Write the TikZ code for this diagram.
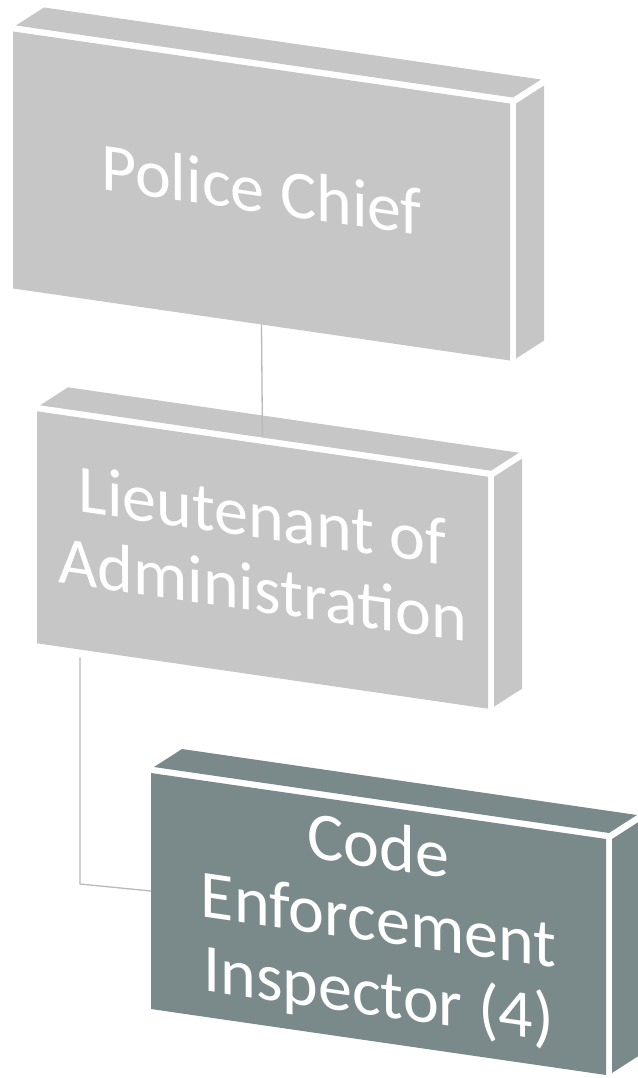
\documentclass[tikz,border=0pt]{standalone}
\usepackage{fontspec}
\setmainfont{Carlito}
\usetikzlibrary{calc,positioning}
\definecolor{boxgray}{RGB}{198,198,198}
\definecolor{boxteal}{RGB}{122,138,139}
\definecolor{linkgray}{RGB}{185,185,185}
% top and side faces of a box node
\newcommand{\boxfaces}[2]{
    \fill[#2] ($(#1.north west)+(3,-6)$) -- ($(#1.north east)+(3,-6)$) -- ++(28,-18) -- ($(#1.north west)+(31,-24)$) -- cycle;
    \fill[#2] ($(#1.north east)+(6,0)$) -- ($(#1.south east)+(6,-2)$) -- ++(28,-18) -- ($(#1.north east)+(34,-18)$) -- cycle;
}

\begin{document}
\begin{tikzpicture}[x=1pt, y=-1pt,
    orgbox/.style={fill=#1, text=white, inner sep=0pt, outer sep=0pt, align=center,
        font=\fontsize{68}{74}\selectfont, yslant=-0.145},
    link/.style={draw=linkgray, line width=1.3pt}]
    \useasboundingbox (0,0) rectangle (637,1078);

    \node[orgbox=boxgray, minimum width=497pt, minimum height=257pt, text depth=14pt] (chief) at (261.5,196) {Police Chief};
    \node[orgbox=boxgray, minimum width=451pt, minimum height=232pt, text depth=16pt] (lieut) at (262.5,560) {Lieutenant of\\Administration};
    \node[orgbox=boxteal, minimum width=455pt, minimum height=236pt] (insp) at (378.5,924) {Code\\Enforcement\\Inspector (4)};

    \boxfaces{chief}{boxgray}
    \boxfaces{lieut}{boxgray}
    \boxfaces{insp}{boxteal}

    \coordinate (bend) at (80,884);
    \draw[link, shorten >=8pt] (chief.south) -- (lieut.north);
    \draw[link] (lieut.south west) ++(43,14) -- (bend) -- (insp.west);
\end{tikzpicture}
\end{document}
